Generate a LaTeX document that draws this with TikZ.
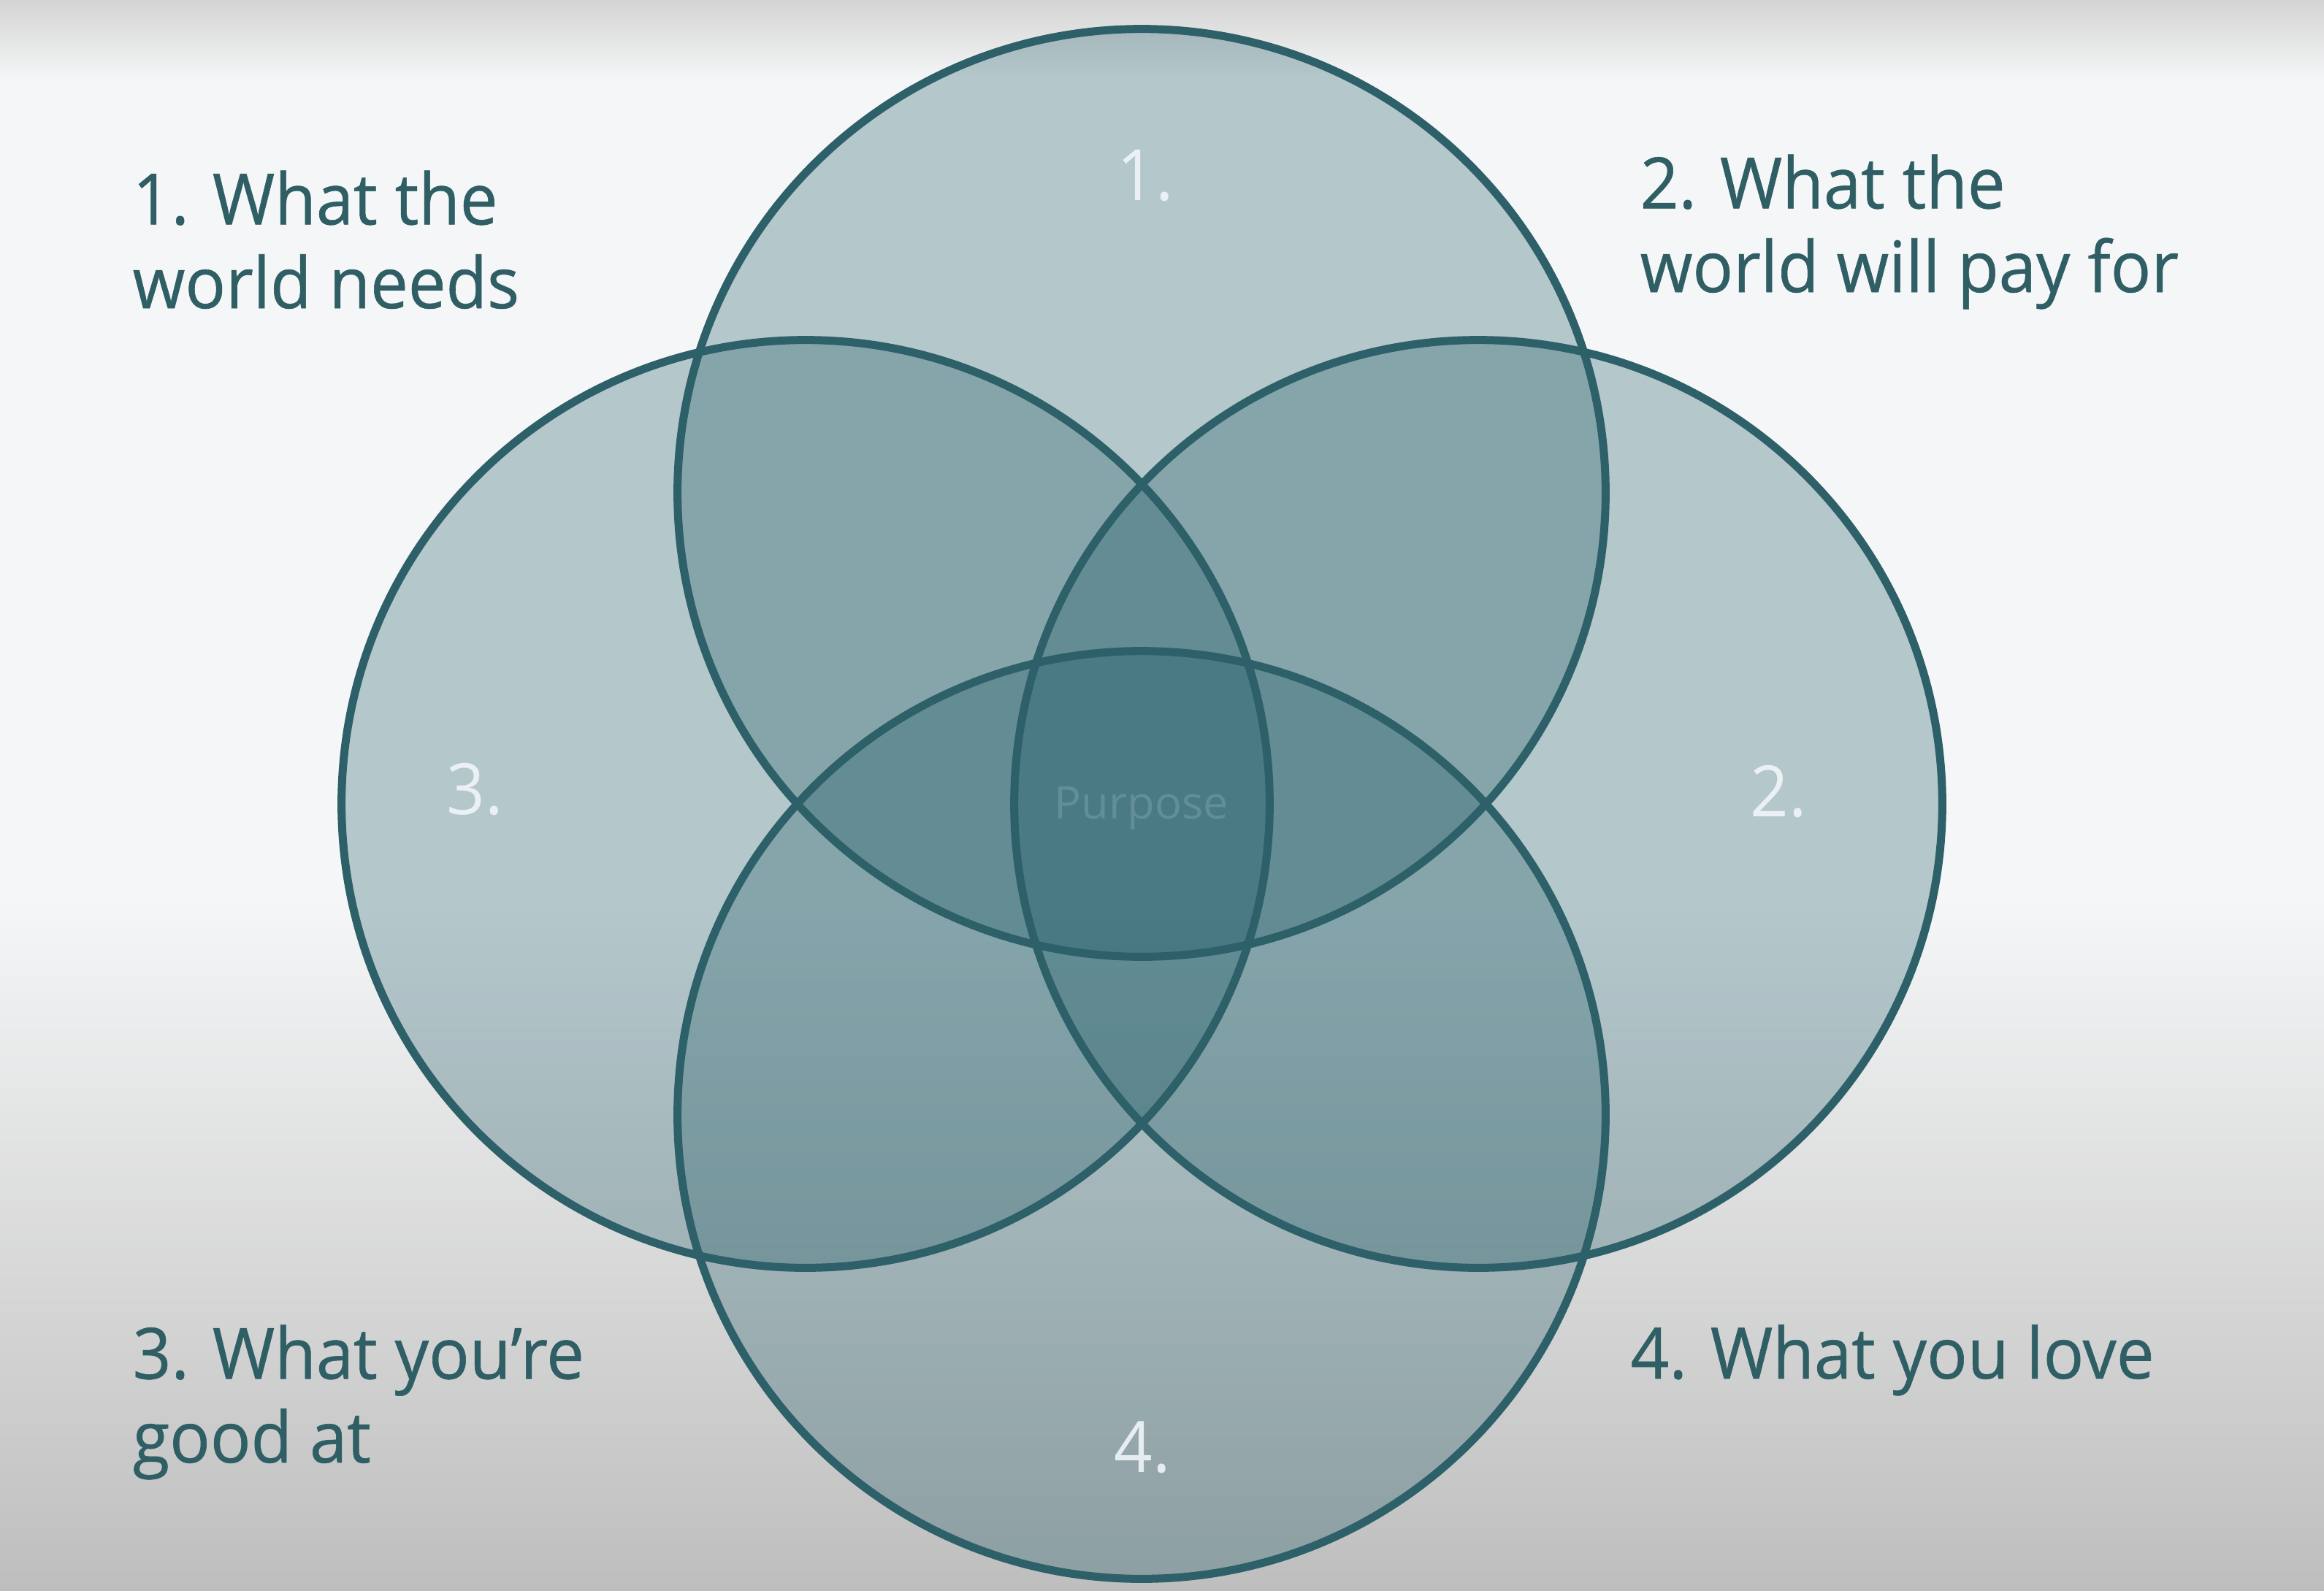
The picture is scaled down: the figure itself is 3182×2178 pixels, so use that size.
\documentclass[tikz,border=0pt]{standalone}
\usepackage{fontspec}
\setmainfont{Open Sans}
\newfontfamily\labfont[FakeStretch=0.95,FakeBold=0.6]{Open Sans}
\newfontfamily\numfont[FakeStretch=0.95]{Open Sans}
\definecolor{bgtop}{RGB}{212,212,212}
\definecolor{bgmid}{RGB}{245,246,247}
\definecolor{bgbot}{RGB}{190,190,190}
\definecolor{vennfill}{RGB}{8,75,88}
\definecolor{ringcol}{RGB}{45,96,104}
\definecolor{labcol}{RGB}{47,94,101}
\definecolor{numcol}{RGB}{240,245,248}
\definecolor{purpcol}{RGB}{98,142,154}
\tikzset{
  vennarea/.style={fill=vennfill, fill opacity=0.27},
  ring/.style={draw=ringcol, line width=0.11cm},
  lab/.style={font=\labfont\fontsize{27.6pt}{32.6pt}\selectfont, text=labcol, align=left, inner sep=0pt},
  num/.style={font=\numfont\fontsize{27.6pt}{32.6pt}\selectfont, text=numcol, text opacity=0.9, inner sep=0pt, anchor=base},
  purp/.style={font=\fontsize{17.5pt}{20pt}\selectfont, text=purpcol, inner sep=0pt, anchor=base}
}
\begin{document}
\begin{tikzpicture}[x=0.01cm,y=-0.01cm]
\useasboundingbox (0,0) rectangle (3182,2178);
% background
\fill[bgmid] (0,0) rectangle (3182,2178);
\shade[top color=bgtop, bottom color=bgmid] (0,0) rectangle (3182,110);
\shade[top color=bgmid, bottom color=bgbot] (0,1230) rectangle (3182,2178);
% circle centres
\coordinate (c1) at (1563,675);
\coordinate (c2) at (2024,1101);
\coordinate (c3) at (1103,1101);
\coordinate (c4) at (1563,1527);
% fills
\fill[vennarea] (c1) circle[radius=6.35cm];
\fill[vennarea] (c2) circle[radius=6.35cm];
\fill[vennarea] (c3) circle[radius=6.35cm];
\fill[vennarea] (c4) circle[radius=6.35cm];
% outlines
\draw[ring] (c1) circle[radius=6.35cm];
\draw[ring] (c2) circle[radius=6.35cm];
\draw[ring] (c3) circle[radius=6.35cm];
\draw[ring] (c4) circle[radius=6.35cm];
% numbers
\node[num] (n1) at (1568,274) {1.};
\node[num] (n2) at (2435,1118) {2.};
\node[num] (n3) at (650,1115) {3.};
\node[num] (n4) at (1564,2016) {4.};
\node[purp] (pp) at (1563,1121) {Purpose};
% labels (base anchor = last line)
\node[lab, anchor=base west] (l1) at (181,422) {1. What the\\world needs};
\node[lab, anchor=base west] (l2) at (2245,400) {2. What the\\world will pay for};
\node[lab, anchor=base west] (l3) at (181,2003) {3. What you’re\\good at};
\node[lab, anchor=base west] (l4) at (2232,1888) {4. What you love};
\end{tikzpicture}
\end{document}
